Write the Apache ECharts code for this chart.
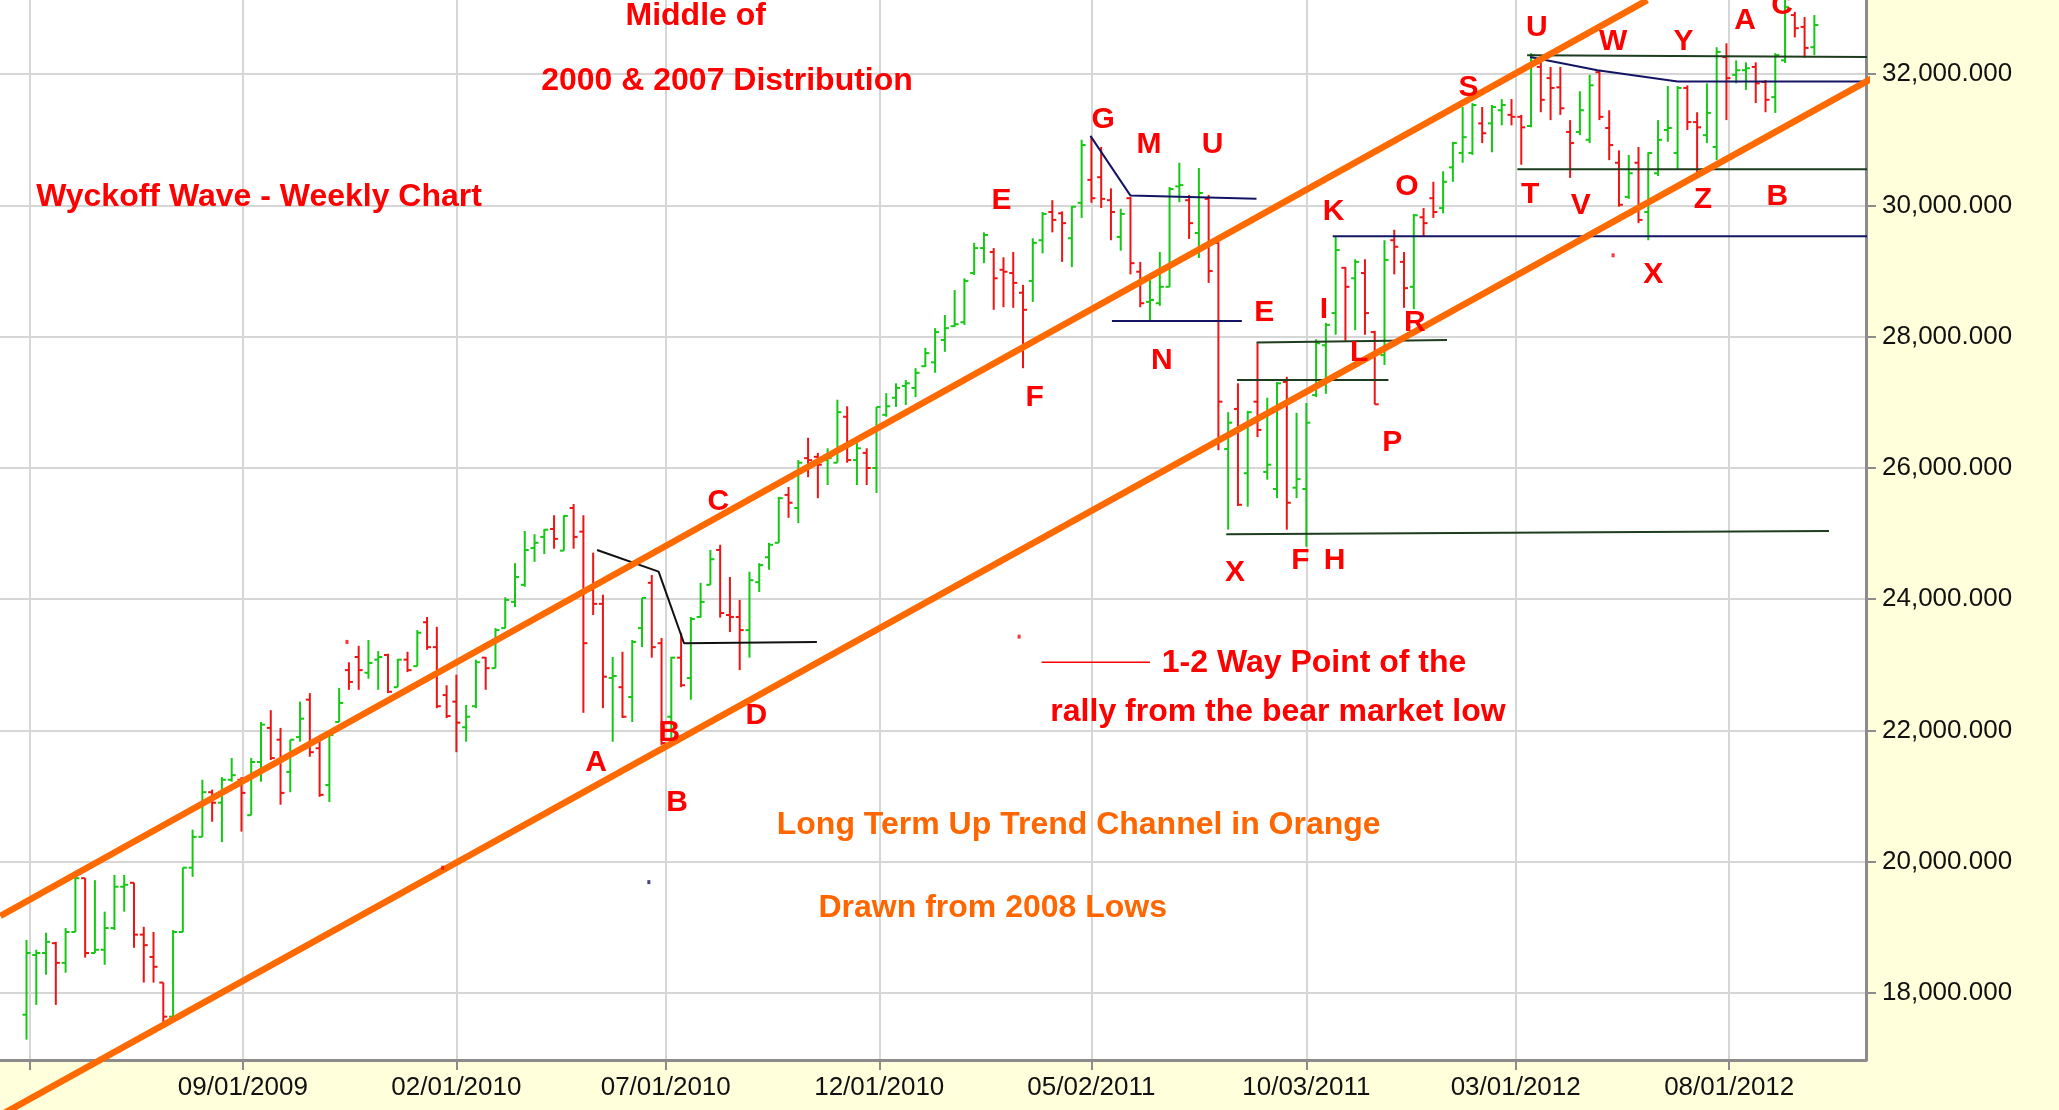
<!DOCTYPE html>
<html>
<head>
<meta charset="utf-8">
<title>Wyckoff Wave - Weekly Chart</title>
<script src="https://cdn.jsdelivr.net/npm/echarts@6/dist/echarts.min.js"></script>
<style>
  html, body { margin: 0; padding: 0; background: #ffffdc; }
  #chart { width: 2059px; height: 1110px; }
</style>
</head>
<body>
<div id="chart"></div>
<script>
// weekly bars, first one is the week of 2009-03-30
const FIRST_WEEK = '2009-03-30'

const opens = [
  17670, 18580, 18610, 18760, 18460, 18930, 19750, 18610, 18660, 18990,
  19620, 19680, 18890, 18550, 18160, 17640, 18930, 19910, 20380, 21060,
  20900, 21250, 21250, 20710, 21520, 22040, 21860, 21370, 21900, 22470,
  21730, 21170, 22130, 22920, 23120, 22880, 23080, 23150, 22660, 23080,
  22980, 23650, 23270, 22540, 22440, 22050, 22370, 23110, 22950, 23560,
  23960, 24220, 24780, 24950, 25070, 24740, 25390, 25030, 24140, 23930,
  22800, 22660, 22510, 23560, 24250, 23330, 22210, 23110, 22800, 23730,
  24220, 24750, 23760, 23730, 23530, 24260, 24640, 24860, 25590, 25390,
  26150, 26170, 26120, 26080, 26780, 26120, 26230, 26000, 26810, 27070,
  27250, 27220, 27550, 27610, 27950, 28160, 28220, 28970, 29350, 29290,
  29020, 28970, 28670, 28850, 29470, 29900, 29880, 29500, 30040, 30390,
  30430, 30080, 29520, 30110, 28990, 28530, 28510, 28760, 30290, 30080,
  29580, 30100, 29430, 26290, 26900, 25920, 27010, 25940, 25680, 27310,
  25700, 25680, 27110, 27870, 28360, 29050, 28890, 28970, 28070, 27720,
  29470, 29140, 28760, 29820, 30110, 29960, 30580, 30800, 30800, 31250,
  31250, 31450, 31380, 31350, 31210, 32110, 31940, 31800, 31120, 31120,
  31000, 32030, 31180, 30650, 30130, 30650, 29900, 30490, 31150, 30800,
  31790, 31270, 31070, 30890, 32260, 31990, 32060, 32110, 31880, 31650,
  32210, 32900, 32720, 32410
]
const highs = [
  18810, 18660, 18920, 18780, 18990, 19800, 19750, 19720, 19240, 19800,
  19800, 19680, 19010, 18930, 18160, 18960, 19910, 20490, 21250, 21100,
  21290, 21580, 21290, 21580, 22130, 22310, 22040, 21860, 22440, 22570,
  21890, 21960, 22650, 23040, 23290, 23380, 23210, 23170, 23090, 23200,
  23530, 23730, 23580, 22690, 22850, 22390, 23080, 23120, 23560, 24030,
  24550, 25040, 24990, 25070, 25280, 25280, 25450, 25280, 24710, 24070,
  23120, 23200, 23380, 24020, 24370, 23410, 23120, 23490, 23730, 24250,
  24750, 24830, 24340, 23990, 24420, 24550, 24860, 25560, 25710, 26120,
  26460, 26230, 26300, 27040, 26940, 26380, 26300, 26930, 27140, 27290,
  27340, 27520, 27830, 28130, 28330, 28710, 28890, 29430, 29590, 29350,
  29210, 29290, 28790, 29500, 29900, 30080, 29910, 29990, 31000, 31040,
  30890, 30260, 29950, 30130, 29140, 28890, 29290, 30280, 30650, 30160,
  30570, 30160, 29440, 26850, 27290, 26870, 27900, 27070, 27310, 27390,
  26840, 26990, 27960, 28210, 29520, 29060, 29180, 29180, 28090, 29470,
  29630, 29290, 29870, 29960, 30360, 30520, 30970, 31500, 31560, 31500,
  31530, 31620, 31620, 31380, 32320, 32180, 32110, 32110, 31300, 31740,
  31990, 32060, 31450, 30840, 30770, 30890, 30810, 31300, 31820, 31820,
  31830, 31420, 31860, 32410, 32470, 32210, 32180, 32180, 31910, 32320,
  33200, 32950, 32870, 32900
]
const lows = [
  17290, 17820, 18280, 17820, 18310, 18930, 18540, 18610, 18430, 18960,
  19240, 18690, 18160, 18160, 17550, 17640, 18930, 19770, 20380, 20610,
  20300, 21220, 20460, 20710, 21220, 21550, 20870, 21060, 21830, 21600,
  20990, 20910, 22130, 22620, 22620, 22790, 22620, 22570, 22660, 22890,
  22980, 23230, 22340, 22190, 21670, 21830, 22340, 22620, 22950, 23560,
  23880, 24190, 24570, 24690, 24770, 24740, 24770, 22270, 23760, 22340,
  21830, 22190, 22130, 23270, 23110, 21780, 21860, 22660, 22470, 23720,
  24220, 23720, 23500, 22920, 23110, 24110, 24450, 24860, 25240, 25160,
  25860, 25540, 25740, 26080, 26080, 25740, 25740, 25620, 26780, 26930,
  26960, 27080, 27540, 27450, 27770, 28150, 28180, 28940, 29120, 28410,
  28450, 28440, 27520, 28530, 29270, 29590, 29140, 29060, 29810, 30040,
  29960, 29470, 29310, 28950, 28450, 28250, 28470, 28760, 30050, 29490,
  29200, 28820, 26270, 25060, 25420, 25410, 26470, 25820, 25540, 25060,
  25540, 24800, 27080, 27130, 28030, 27920, 28100, 28030, 26970, 27570,
  28950, 28440, 28420, 29520, 29810, 29880, 30360, 30650, 30770, 30950,
  30810, 31220, 31220, 30620, 31190, 31420, 31300, 31380, 30420, 31070,
  30950, 31300, 30690, 29980, 30100, 29730, 29470, 30450, 30970, 30540,
  31150, 30460, 30950, 30690, 31300, 31860, 31760, 31560, 31420, 31410,
  32170, 32560, 32250, 32290
]
const closes = [
  18610, 18610, 18780, 18460, 18930, 19750, 18610, 18660, 18990, 19620,
  19650, 18890, 18730, 18400, 17640, 18930, 19910, 20380, 21060, 20900,
  21250, 21320, 21050, 21520, 22090, 21580, 21050, 21860, 22180, 21670,
  21020, 21930, 22420, 22740, 22920, 23030, 23120, 22590, 23080, 22920,
  23490, 23270, 22370, 22220, 22120, 22210, 23040, 22950, 23530, 23990,
  24340, 24750, 24860, 25060, 24920, 25270, 24950, 23330, 23930, 22820,
  22830, 22210, 23350, 24020, 23270, 21810, 23110, 22690, 23700, 23960,
  24610, 23790, 23730, 23530, 24290, 24520, 24830, 25540, 25470, 26080,
  26120, 26050, 26150, 26850, 26120, 26300, 26000, 26930, 26940, 27220,
  27290, 27450, 27750, 28070, 28130, 28190, 28850, 29350, 29550, 28890,
  28990, 28820, 28410, 29430, 29870, 29780, 29730, 29980, 30920, 30110,
  30100, 29900, 29870, 29120, 28510, 28560, 28760, 30250, 30310, 29730,
  30190, 29000, 27010, 26690, 25440, 26850, 26580, 26050, 27290, 25470,
  25830, 26690, 27900, 28180, 29320, 28760, 29140, 28360, 26970, 29170,
  29370, 28740, 29850, 29730, 29900, 30360, 30950, 31040, 31530, 31100,
  31500, 31530, 31350, 31190, 32290, 31610, 31790, 31480, 30950, 31450,
  31830, 31350, 30920, 30010, 30490, 29780, 30800, 31000, 31180, 31790,
  31270, 31190, 31410, 32340, 31940, 32060, 32090, 31860, 31610, 32290,
  33020, 32700, 32400, 32750
]

// x axis grid / tick labels
const gridDates = ['2009-04-01', '2009-09-01', '2010-02-01', '2010-07-01', '2010-12-01',
  '2011-05-02', '2011-10-03', '2012-03-01', '2012-08-01']
const dateLabels = ['', '09/01/2009', '02/01/2010', '07/01/2010', '12/01/2010',
  '05/02/2011', '10/03/2011', '03/01/2012', '08/01/2012']
const priceTicks = [18000, 20000, 22000, 24000, 26000, 28000, 30000, 32000]

// drawn lines, points are [week index, price]
const channelUpper = [[-2.68, 19175], [165.9, 33128]]
const channelLower = [[-2.68, 16138], [198.0, 32686]]
const blackLine = [[58.4, 24750], [64.7, 24420], [67.3, 23330], [80.9, 23350]]
const navyG = [[108.9, 31060], [113.0, 30150], [125.9, 30100]]
const navyN = [[111.1, 28240], [124.4, 28240]]
const greenE1 = [[125.9, 27910], [145.4, 27950]]
const greenE2 = [[123.9, 27340], [139.4, 27340]]
const greenX = [[122.8, 24990], [184.5, 25040]]
const navyK = [[133.7, 29530], [189.3, 29530]]
const greenT = [[152.6, 30550], [188.7, 30550]]
const greenU = [[153.6, 32290], [191.8, 32260]]
const navyU = [[153.9, 32260], [160.8, 32060], [169.0, 31890], [194.3, 31890]]
const wayPoint = [[103.9, 23040], [115.0, 23040]]

// wave letters: [text, week index, price]
const letters = [
  ['C', 70.8, 25480], ['A', 58.3, 21510], ['B', 65.8, 21960], ['B', 66.6, 20900],
  ['D', 74.7, 22220], ['G', 110.2, 31300], ['M', 114.9, 30920], ['U', 121.4, 30920],
  ['E', 99.8, 30070], ['F', 103.2, 27070], ['N', 116.2, 27630], ['X', 123.7, 24400],
  ['E', 126.7, 28360], ['K', 133.8, 29900], ['O', 141.3, 30280], ['I', 132.8, 28410],
  ['L', 136.4, 27750], ['R', 142.1, 28220], ['P', 139.8, 26380], ['F', 130.4, 24580],
  ['H', 133.9, 24580], ['S', 147.6, 31790], ['T', 153.9, 30160], ['U', 154.6, 32700],
  ['W', 162.4, 32500], ['Y', 169.6, 32500], ['A', 175.9, 32810], ['C', 179.7, 33050],
  ['V', 159.1, 29990], ['Z', 171.6, 30080], ['B', 179.2, 30130], ['X', 166.5, 28940]
]
// notes: [text, week index, price, colour, align]
const notes = [
  ['Middle of', 68.5, 32880, 'red', 'center'],
  ['2000 & 2007 Distribution', 71.7, 31890, 'red', 'center'],
  ['Wyckoff Wave - Weekly Chart', 23.8, 30130, 'red', 'center'],
  ['1-2 Way Point of the', 116.2, 23030, 'red', 'left'],
  ['rally from the bear market low', 128.1, 22280, 'red', 'center'],
  ['Long Term Up Trend Channel in Orange', 107.7, 20560, 'orange', 'center'],
  ['Drawn from 2008 Lows', 98.9, 19300, 'orange', 'center']
]
// stray marks left on the chart
const specks = [[32.8, 23350, 'red'], [101.6, 23430, 'red'], [162.4, 29240, 'red'],
  [42.6, 19910, 'red'], [63.7, 19690, 'navy']]

const COLORS = { red: '#ff0000', orange: '#ff6600', navy: '#141464' }
const UP = '#14c814'
const DOWN = '#ee1414'
const FONT = '"Liberation Sans", Arial, Helvetica, sans-serif'

const DAY = 864e5
const t0 = Date.parse(FIRST_WEEK)
const weekTime = i => t0 + i * 7 * DAY
const gridTimes = gridDates.map(d => Date.parse(d))

const bars = opens.map((o, i) => [weekTime(i), o, highs[i], lows[i], closes[i]])

function drawnLine(pts, color, width) {
  return {
    type: 'line',
    data: pts.map(p => [weekTime(p[0]), p[1]]),
    symbol: 'none',
    clip: false,
    silent: true,
    z: 6,
    lineStyle: { color, width },
  }
}

function dateLabel(v) {
  let best = 0
  gridTimes.forEach((t, i) => {
    if (Math.abs(t - v) < Math.abs(gridTimes[best] - v)) best = i
  })
  return dateLabels[best]
}

const chart = echarts.init(document.getElementById('chart'))

chart.setOption({
  animation: false,
  backgroundColor: '#ffffdc',
  grid: {
    left: 0,
    right: 193,
    top: 0,
    bottom: 50,
    show: true,
    backgroundColor: '#ffffff',
    borderWidth: 0,
  },
  xAxis: {
    type: 'value',
    min: Date.parse('2009-03-11'),
    max: Date.parse('2012-11-07'),
    axisLine: { show: true, lineStyle: { color: '#8c8c8c', width: 3 } },
    axisTick: {
      show: true,
      length: 10,
      customValues: gridTimes,
      lineStyle: { color: '#8c8c8c', width: 2 },
    },
    axisLabel: {
      customValues: gridTimes.slice(1),
      formatter: dateLabel,
      margin: 15,
      color: '#111',
      fontSize: 26,
      fontFamily: FONT,
    },
    splitLine: { show: true, lineStyle: { color: '#d6d6d6', width: 2 } },
  },
  yAxis: {
    type: 'value',
    position: 'right',
    min: 16980,
    max: 33130,
    axisLine: { show: true, lineStyle: { color: '#8c8c8c', width: 3 } },
    axisTick: {
      show: true,
      length: 10,
      customValues: priceTicks,
      lineStyle: { color: '#8c8c8c', width: 2 },
    },
    axisLabel: {
      customValues: priceTicks,
      margin: 16,
      color: '#111',
      fontSize: 26,
      fontFamily: FONT,
      formatter: v => v.toLocaleString('en-US', { minimumFractionDigits: 3, maximumFractionDigits: 3 }),
    },
    splitLine: { show: true, lineStyle: { color: '#d6d6d6', width: 2 } },
  },
  series: [
    {
      type: 'custom',
      name: 'Wyckoff Wave',
      data: bars,
      encode: { x: 0, y: [1, 2, 3, 4] },
      z: 3,
      silent: true,
      renderItem: (params, api) => {
        const t = api.value(0)
        const o = api.value(1)
        const c = api.value(4)
        const top = api.coord([t, api.value(2)])
        const bot = api.coord([t, api.value(3)])
        const po = api.coord([t, o])
        const pc = api.coord([t, c])
        const st = { stroke: c >= o ? UP : DOWN, lineWidth: 2 }
        return {
          type: 'group',
          children: [
            { type: 'line', shape: { x1: top[0], y1: top[1], x2: bot[0], y2: bot[1] }, style: st },
            { type: 'line', shape: { x1: po[0] - 4, y1: po[1], x2: po[0], y2: po[1] }, style: st },
            { type: 'line', shape: { x1: pc[0], y1: pc[1], x2: pc[0] + 4, y2: pc[1] }, style: st },
          ],
        }
      },
    },
    drawnLine(blackLine, '#111111', 2),
    drawnLine(navyG, COLORS.navy, 2),
    drawnLine(navyN, COLORS.navy, 2),
    drawnLine(navyK, COLORS.navy, 2),
    drawnLine(navyU, COLORS.navy, 2),
    drawnLine(greenE1, '#1e3c1e', 2),
    drawnLine(greenE2, '#1e3c1e', 2),
    drawnLine(greenX, '#1e3c1e', 2),
    drawnLine(greenT, '#1e3c1e', 2),
    drawnLine(greenU, '#1e3c1e', 2),
    drawnLine(wayPoint, COLORS.red, 1.5),
    drawnLine(channelUpper, '#ff6a00', 6.5),
    drawnLine(channelLower, '#ff6a00', 6.5),
    {
      type: 'scatter',
      silent: true,
      symbol: 'rect',
      symbolSize: [3, 4],
      z: 6,
      data: specks.map(s => ({ value: [weekTime(s[0]), s[1]], itemStyle: { color: COLORS[s[2]] } })),
    },
    {
      type: 'custom',
      silent: true,
      z: 10,
      data: letters.map(l => [weekTime(l[1]), l[2]]),
      renderItem: (params, api) => {
        const p = api.coord([api.value(0), api.value(1)])
        return {
          type: 'text',
          x: p[0],
          y: p[1],
          style: {
            text: letters[params.dataIndex][0],
            fill: COLORS.red,
            font: 'bold 30px ' + FONT,
            align: 'center',
            verticalAlign: 'middle',
          },
        }
      },
    },
    {
      type: 'custom',
      silent: true,
      z: 10,
      data: notes.map(n => [weekTime(n[1]), n[2]]),
      renderItem: (params, api) => {
        const n = notes[params.dataIndex]
        const p = api.coord([api.value(0), api.value(1)])
        return {
          type: 'text',
          x: p[0],
          y: p[1],
          style: {
            text: n[0],
            fill: COLORS[n[3]],
            font: 'bold 32px ' + FONT,
            align: n[4],
            verticalAlign: 'middle',
          },
        }
      },
    },
  ],
})
</script>
</body>
</html>
